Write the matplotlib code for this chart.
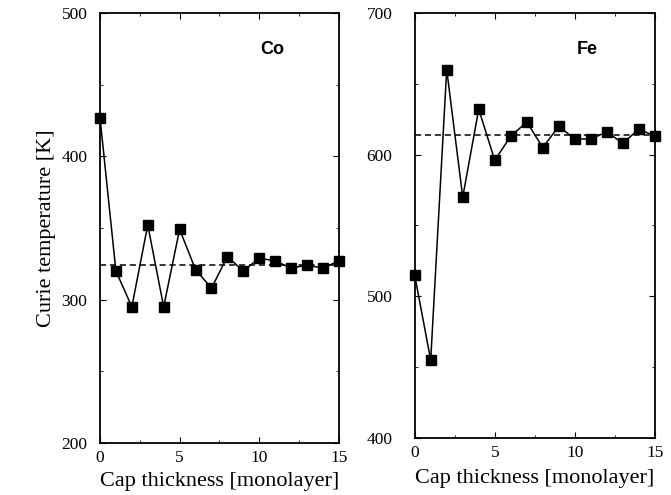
import numpy as np
from matplotlib import pyplot as plt
from matplotlib.ticker import MultipleLocator

cap = np.arange(16)
tc_co = [427, 320, 295, 352, 295, 349, 321, 308, 330, 320, 329, 327, 322, 324, 322, 327]
tc_fe = [515, 455, 660, 570, 632, 596, 613, 623, 605, 620, 611, 611, 616, 608, 618, 613]
bulk_co = 324
bulk_fe = 614

plt.rcParams['font.family'] = ['Liberation Serif', 'DejaVu Serif']

fig = plt.figure(figsize=(6.71, 4.95), dpi=100)
ax1 = fig.add_axes([0.149, 0.105, 0.356, 0.869])
ax2 = fig.add_axes([0.618, 0.115, 0.358, 0.859])


def panel(ax, y, bulk, ylim, name, ypad, xlpad):
    ax.plot(cap, y, color='black', lw=1.1, marker='s', ms=7, clip_on=False, zorder=3)
    ax.axhline(bulk, color='black', lw=1.1, ls=(0, (4, 2.5)))
    ax.set_xlim(0, 15)
    ax.set_ylim(*ylim)
    ax.xaxis.set_major_locator(MultipleLocator(5))
    ax.xaxis.set_minor_locator(MultipleLocator(2.5))
    ax.yaxis.set_major_locator(MultipleLocator(100))
    ax.yaxis.set_minor_locator(MultipleLocator(50))
    ax.tick_params(which='both', direction='in', top=True, right=True, labelsize=12.5)
    ax.tick_params(which='major', length=4)
    ax.tick_params(which='minor', length=2)
    ax.tick_params(axis='y', pad=ypad)
    ax.tick_params(axis='x', pad=5)
    for s in ax.spines.values():
        s.set_linewidth(1.3)
    ax.set_xlabel('Cap thickness [monolayer]', fontsize=16, labelpad=xlpad)
    ax.text(0.72, 0.915, name, transform=ax.transAxes, fontsize=13, fontweight='bold',
            family=['Liberation Sans', 'DejaVu Sans'], ha='center', va='center')


panel(ax1, tc_co, bulk_co, (200, 500), 'Co', 9, 4)
panel(ax2, tc_fe, bulk_fe, (400, 700), 'Fe', 16, 6)
ax1.set_ylabel('Curie temperature [K]', fontsize=16, labelpad=4)

fig.savefig('out.png', dpi=100)
